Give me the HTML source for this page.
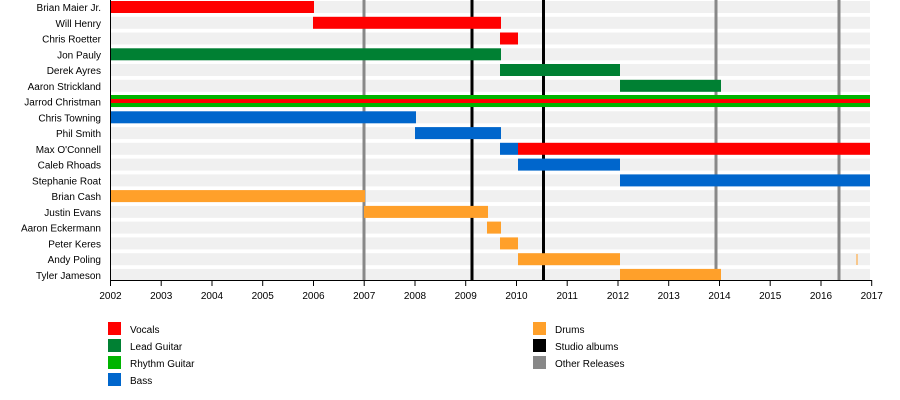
<!DOCTYPE html>
<html><head><meta charset="utf-8"><style>
html,body{margin:0;padding:0;background:#fff;}
svg{display:block;font-family:"Liberation Sans",sans-serif;}
</style></head><body>
<svg width="900" height="400" viewBox="0 0 900 400" xmlns="http://www.w3.org/2000/svg">
<g fill="#f0f0f0">
<rect x="110" y="1" width="760" height="12"/>
<rect x="110" y="16.8" width="760" height="12"/>
<rect x="110" y="32.5" width="760" height="12"/>
<rect x="110" y="48.3" width="760" height="12"/>
<rect x="110" y="64" width="760" height="12"/>
<rect x="110" y="79.8" width="760" height="12"/>
<rect x="110" y="95.6" width="760" height="12"/>
<rect x="110" y="111.3" width="760" height="12"/>
<rect x="110" y="127.1" width="760" height="12"/>
<rect x="110" y="142.8" width="760" height="12"/>
<rect x="110" y="158.6" width="760" height="12"/>
<rect x="110" y="174.4" width="760" height="12"/>
<rect x="110" y="190.1" width="760" height="12"/>
<rect x="110" y="205.9" width="760" height="12"/>
<rect x="110" y="221.6" width="760" height="12"/>
<rect x="110" y="237.4" width="760" height="12"/>
<rect x="110" y="253.2" width="760" height="12"/>
<rect x="110" y="268.9" width="760" height="11.1"/>
</g>
<!-- release lines -->
<g fill="#888">
<rect x="362.5" y="0" width="3" height="280"/>
<rect x="714.5" y="0" width="3" height="280"/>
<rect x="837.5" y="0" width="3" height="280"/>
</g>
<g fill="#000">
<rect x="470.5" y="0" width="3" height="280"/>
<rect x="542" y="0" width="3" height="280"/>
</g>
<!-- bars -->
<g>
<rect fill="#ff0000" x="110" y="1" width="204" height="12"/>
<rect fill="#ff0000" x="313" y="16.8" width="188" height="12"/>
<rect fill="#ff0000" x="500" y="32.5" width="18" height="12"/>
<rect fill="#008033" x="110" y="48.3" width="391" height="12"/>
<rect fill="#008033" x="500" y="64" width="120" height="12"/>
<rect fill="#008033" x="620" y="79.8" width="101" height="12"/>
<rect fill="#00b400" x="110" y="95" width="760" height="12"/>
<rect fill="#ff0000" x="110" y="99" width="760" height="4"/>
<rect fill="#0066cc" x="110" y="111.3" width="306" height="12"/>
<rect fill="#0066cc" x="415" y="127.1" width="86" height="12"/>
<rect fill="#0066cc" x="500" y="142.8" width="18" height="12"/>
<rect fill="#ff0000" x="518" y="142.8" width="352" height="12"/>
<rect fill="#0066cc" x="518" y="158.6" width="102" height="12"/>
<rect fill="#0066cc" x="620" y="174.4" width="250" height="12"/>
<rect fill="#ffa02a" x="110" y="190.1" width="255" height="12"/>
<rect fill="#ffa02a" x="364" y="205.9" width="124" height="12"/>
<rect fill="#ffa02a" x="487" y="221.6" width="14" height="12"/>
<rect fill="#ffa02a" x="500" y="237.4" width="18" height="12"/>
<rect fill="#ffa02a" x="518" y="253.2" width="102" height="12"/>
<rect fill="#ffa02a" x="856.5" y="254" width="1" height="11"/>
<rect fill="#ffa02a" x="620" y="268.9" width="101" height="11.1"/>
</g>
<!-- axes -->
<line x1="110.5" y1="0" x2="110.5" y2="280.5" stroke="#000" stroke-width="1"/>
<line x1="110" y1="280.5" x2="872" y2="280.5" stroke="#000" stroke-width="1"/>
<g stroke="#000" stroke-width="1">
<line x1="110.5" y1="280" x2="110.5" y2="286"/>
<line x1="161.2" y1="280" x2="161.2" y2="286"/>
<line x1="212" y1="280" x2="212" y2="286"/>
<line x1="262.7" y1="280" x2="262.7" y2="286"/>
<line x1="313.5" y1="280" x2="313.5" y2="286"/>
<line x1="364.2" y1="280" x2="364.2" y2="286"/>
<line x1="415" y1="280" x2="415" y2="286"/>
<line x1="465.7" y1="280" x2="465.7" y2="286"/>
<line x1="516.5" y1="280" x2="516.5" y2="286"/>
<line x1="567.2" y1="280" x2="567.2" y2="286"/>
<line x1="618" y1="280" x2="618" y2="286"/>
<line x1="668.7" y1="280" x2="668.7" y2="286"/>
<line x1="719.5" y1="280" x2="719.5" y2="286"/>
<line x1="770.2" y1="280" x2="770.2" y2="286"/>
<line x1="821" y1="280" x2="821" y2="286"/>
<line x1="871.7" y1="280" x2="871.7" y2="286"/>
</g>
<g font-size="10" fill="#000" text-anchor="middle">
<text x="110.5" y="299">2002</text>
<text x="161.2" y="299">2003</text>
<text x="212" y="299">2004</text>
<text x="262.7" y="299">2005</text>
<text x="313.5" y="299">2006</text>
<text x="364.2" y="299">2007</text>
<text x="415" y="299">2008</text>
<text x="465.7" y="299">2009</text>
<text x="516.5" y="299">2010</text>
<text x="567.2" y="299">2011</text>
<text x="618" y="299">2012</text>
<text x="668.7" y="299">2013</text>
<text x="719.5" y="299">2014</text>
<text x="770.2" y="299">2015</text>
<text x="821" y="299">2016</text>
<text x="871.7" y="299">2017</text>
</g>
<g font-size="10" fill="#000" text-anchor="end">
<text x="101" y="11">Brian Maier Jr.</text>
<text x="101" y="26.8">Will Henry</text>
<text x="101" y="42.5">Chris Roetter</text>
<text x="101" y="58.3">Jon Pauly</text>
<text x="101" y="74">Derek Ayres</text>
<text x="101" y="89.8">Aaron Strickland</text>
<text x="101" y="105.6">Jarrod Christman</text>
<text x="101" y="121.3">Chris Towning</text>
<text x="101" y="137.1">Phil Smith</text>
<text x="101" y="152.8">Max O'Connell</text>
<text x="101" y="168.6">Caleb Rhoads</text>
<text x="101" y="184.4">Stephanie Roat</text>
<text x="101" y="200.1">Brian Cash</text>
<text x="101" y="215.9">Justin Evans</text>
<text x="101" y="231.6">Aaron Eckermann</text>
<text x="101" y="247.4">Peter Keres</text>
<text x="101" y="263.2">Andy Poling</text>
<text x="101" y="278.9">Tyler Jameson</text>
</g>
<!-- legend -->
<rect fill="#ff0000" x="108" y="322" width="13" height="13"/>
<rect fill="#008033" x="108" y="339" width="13" height="13"/>
<rect fill="#00b400" x="108" y="356" width="13" height="13"/>
<rect fill="#0066cc" x="108" y="373" width="13" height="13"/>
<rect fill="#ffa02a" x="533" y="322" width="13" height="13"/>
<rect fill="#000000" x="533" y="339" width="13" height="13"/>
<rect fill="#888888" x="533" y="356" width="13" height="13"/>
<g font-size="10" fill="#000">
<text x="130" y="333">Vocals</text>
<text x="130" y="350">Lead Guitar</text>
<text x="130" y="367">Rhythm Guitar</text>
<text x="130" y="384">Bass</text>
<text x="555" y="333">Drums</text>
<text x="555" y="350">Studio albums</text>
<text x="555" y="367">Other Releases</text>
</g>
</svg>
</body></html>
